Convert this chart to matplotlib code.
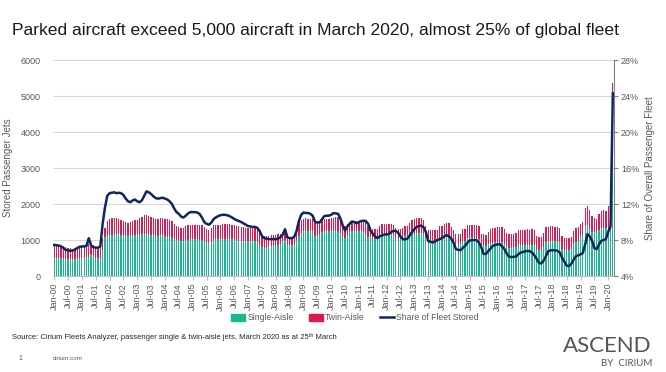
import matplotlib
matplotlib.use("Agg")
import matplotlib.pyplot as plt
import numpy as np
from matplotlib.patches import Patch
from matplotlib.lines import Line2D

plt.rcParams['font.family'] = ['Liberation Sans', 'DejaVu Sans']

# ---- data (monthly, Jan-2000 .. Mar-2020) ----
total_2000 = [850, 850, 840, 840, 830, 800, 770, 780, 760, 760, 780, 800]
single_2000 = [500, 500, 500, 490, 480, 470, 460, 470, 460, 470, 480, 500]
share_2000 = [7.45, 7.42, 7.38, 7.3, 7.1, 6.9, 6.85, 6.8, 6.82, 6.95, 7.1, 7.25]

total_2001 = [820, 840, 850, 880, 930, 860, 790, 790, 800, 1050, 1330, 1540]
single_2001 = [500, 510, 520, 530, 600, 560, 500, 490, 500, 720, 1080, 1120]
share_2001 = [7.27, 7.3, 7.35, 8.2, 7.4, 7.2, 7.15, 7.15, 7.3, 9.8, 11.6, 12.9]

total_2002 = [1580, 1600, 1600, 1600, 1580, 1560, 1520, 1500, 1480, 1500, 1540, 1560]
single_2002 = [1140, 1150, 1160, 1170, 1160, 1140, 1120, 1110, 1100, 1110, 1120, 1130]
share_2002 = [13.2, 13.25, 13.3, 13.2, 13.25, 13.2, 13.0, 12.6, 12.3, 12.2, 12.4, 12.5]

total_2003 = [1560, 1600, 1650, 1700, 1690, 1680, 1640, 1620, 1580, 1590, 1600, 1610]
single_2003 = [1140, 1150, 1160, 1180, 1170, 1160, 1140, 1130, 1120, 1120, 1130, 1140]
share_2003 = [12.3, 12.2, 12.4, 12.9, 13.4, 13.3, 13.1, 12.85, 12.65, 12.6, 12.65, 12.7]

total_2004 = [1590, 1580, 1560, 1520, 1440, 1380, 1360, 1340, 1320, 1380, 1420, 1420]
single_2004 = [1100, 1090, 1080, 1060, 1020, 1000, 990, 980, 960, 990, 1010, 1020]
share_2004 = [12.6, 12.5, 12.3, 12.0, 11.5, 11.1, 10.9, 10.6, 10.5, 10.7, 10.95, 11.1]

total_2005 = [1430, 1430, 1420, 1420, 1410, 1350, 1300, 1290, 1330, 1410, 1420, 1430]
single_2005 = [1020, 1020, 1020, 1010, 1000, 960, 930, 920, 950, 1010, 1020, 1030]
share_2005 = [11.1, 11.1, 11.05, 10.9, 10.5, 10.0, 9.8, 9.7, 9.9, 10.3, 10.5, 10.65]

total_2006 = [1430, 1440, 1440, 1450, 1440, 1430, 1420, 1400, 1380, 1370, 1350, 1340]
single_2006 = [1030, 1030, 1040, 1040, 1030, 1020, 1010, 990, 980, 980, 970, 970]
share_2006 = [10.75, 10.8, 10.8, 10.75, 10.65, 10.5, 10.35, 10.2, 10.1, 10.0, 9.85, 9.7]

total_2007 = [1330, 1330, 1320, 1320, 1300, 1200, 1120, 1110, 1100, 1110, 1140, 1150]
single_2007 = [980, 975, 970, 965, 950, 870, 800, 790, 780, 800, 820, 830]
share_2007 = [9.55, 9.5, 9.45, 9.45, 9.35, 9.0, 8.45, 8.2, 8.15, 8.1, 8.1, 8.1]

total_2008 = [1150, 1160, 1180, 1210, 1230, 1100, 1090, 1090, 1120, 1300, 1490, 1560]
single_2008 = [830, 850, 900, 960, 990, 870, 860, 860, 880, 1000, 1110, 1200]
share_2008 = [8.1, 8.15, 8.3, 8.6, 9.2, 8.3, 8.2, 8.2, 8.35, 9.0, 10.1, 10.8]

total_2009 = [1580, 1600, 1590, 1580, 1570, 1470, 1460, 1480, 1560, 1580, 1590, 1590]
single_2009 = [1250, 1260, 1260, 1250, 1240, 1120, 1110, 1130, 1220, 1240, 1240, 1250]
share_2009 = [11.05, 11.0, 11.0, 10.9, 10.7, 10.0, 9.95, 9.95, 10.3, 10.65, 10.7, 10.7]

total_2010 = [1600, 1620, 1640, 1630, 1560, 1400, 1390, 1450, 1510, 1530, 1540, 1540]
single_2010 = [1250, 1255, 1260, 1255, 1200, 1070, 1060, 1140, 1220, 1240, 1240, 1240]
share_2010 = [10.8, 11.0, 10.95, 10.9, 10.4, 9.6, 9.05, 9.5, 9.8, 10.05, 10.0, 9.85]

total_2011 = [1540, 1550, 1540, 1500, 1380, 1360, 1310, 1300, 1300, 1400, 1440, 1440]
single_2011 = [1240, 1240, 1230, 1180, 1090, 1080, 1030, 1020, 1020, 1120, 1160, 1160]
share_2011 = [10.0, 10.1, 10.15, 10.1, 9.8, 9.05, 8.7, 8.4, 8.2, 8.4, 8.5, 8.6]

total_2012 = [1440, 1440, 1440, 1420, 1320, 1300, 1300, 1320, 1390, 1400, 1480, 1560]
single_2012 = [1160, 1160, 1160, 1130, 1030, 1020, 1020, 1040, 1110, 1115, 1150, 1180]
share_2012 = [8.62, 8.65, 8.9, 9.02, 9.0, 8.8, 8.4, 8.1, 8.08, 8.15, 8.5, 8.85]

total_2013 = [1580, 1600, 1620, 1600, 1560, 1400, 1290, 1280, 1270, 1275, 1290, 1390]
single_2013 = [1180, 1190, 1200, 1190, 1170, 1050, 930, 930, 920, 930, 940, 1050]
share_2013 = [9.2, 9.45, 9.55, 9.6, 9.4, 8.9, 7.9, 7.8, 7.72, 7.85, 8.0, 8.1]

total_2014 = [1400, 1450, 1470, 1460, 1350, 1280, 1180, 1170, 1180, 1300, 1310, 1420]
single_2014 = [1050, 1080, 1090, 1090, 1000, 960, 885, 880, 885, 960, 970, 1050]
share_2014 = [8.2, 8.4, 8.55, 8.4, 8.15, 7.7, 7.0, 6.9, 6.88, 7.1, 7.35, 7.7]

total_2015 = [1420, 1430, 1430, 1420, 1400, 1180, 1160, 1150, 1220, 1300, 1330, 1340]
single_2015 = [1050, 1055, 1055, 1050, 1020, 850, 840, 830, 900, 930, 930, 940]
share_2015 = [7.95, 7.98, 8.0, 7.98, 7.7, 7.2, 6.45, 6.45, 6.75, 7.05, 7.35, 7.45]

total_2016 = [1360, 1370, 1360, 1300, 1200, 1180, 1170, 1175, 1200, 1270, 1280, 1290]
single_2016 = [930, 935, 935, 900, 820, 790, 785, 790, 800, 860, 865, 865]
share_2016 = [7.5, 7.55, 7.3, 7.0, 6.5, 6.15, 6.1, 6.12, 6.15, 6.4, 6.6, 6.65]

total_2017 = [1290, 1300, 1290, 1300, 1280, 1100, 1080, 1090, 1200, 1360, 1370, 1380]
single_2017 = [865, 870, 865, 860, 850, 720, 715, 715, 800, 950, 960, 960]
share_2017 = [6.75, 6.78, 6.75, 6.6, 6.3, 5.9, 5.45, 5.4, 5.7, 6.2, 6.75, 6.85]

total_2018 = [1380, 1370, 1360, 1340, 1120, 1060, 1050, 1050, 1080, 1250, 1330, 1360]
single_2018 = [960, 960, 955, 940, 760, 720, 715, 715, 740, 880, 950, 960]
share_2018 = [6.86, 6.85, 6.8, 6.6, 6.05, 5.6, 5.15, 5.1, 5.35, 5.8, 6.2, 6.3]

total_2019 = [1450, 1500, 1880, 1940, 1820, 1660, 1610, 1580, 1720, 1800, 1820, 1800]
single_2019 = [1100, 1150, 1400, 1420, 1300, 1230, 1210, 1200, 1280, 1330, 1340, 1330]
share_2019 = [6.4, 6.55, 7.5, 8.65, 8.4, 7.9, 7.1, 6.98, 7.5, 7.9, 8.0, 8.1]

total_2020 = [1950, 2000, 5355]
single_2020 = [1340, 1350, 3690]
share_2020 = [8.9, 9.5, 24.3]

total = sum([total_2000, total_2001, total_2002, total_2003, total_2004, total_2005,
             total_2006, total_2007, total_2008, total_2009, total_2010, total_2011,
             total_2012, total_2013, total_2014, total_2015, total_2016, total_2017,
             total_2018, total_2019, total_2020], [])
single = sum([single_2000, single_2001, single_2002, single_2003, single_2004, single_2005,
              single_2006, single_2007, single_2008, single_2009, single_2010, single_2011,
              single_2012, single_2013, single_2014, single_2015, single_2016, single_2017,
              single_2018, single_2019, single_2020], [])
share = sum([share_2000, share_2001, share_2002, share_2003, share_2004, share_2005,
             share_2006, share_2007, share_2008, share_2009, share_2010, share_2011,
             share_2012, share_2013, share_2014, share_2015, share_2016, share_2017,
             share_2018, share_2019, share_2020], [])
twin = [t - s for t, s in zip(total, single)]

tick_labels = []
for yr in range(0, 21):
    tick_labels.append(f"Jan-{yr:02d}")
    if yr < 20:
        tick_labels.append(f"Jul-{yr:02d}")

TEAL = "#19b891"
RED = "#e3174f"
NAVY = "#0d2760"
GRAY = "#595959"

fig = plt.figure(figsize=(6.66, 3.72), dpi=100)
ax = fig.add_axes([53/666, 1-276/372, (614-53)/666, (276-60)/372])
x = np.arange(len(total))
ax.bar(x, single, width=0.55, color=TEAL, linewidth=0)
ax.bar(x, twin, bottom=single, width=0.55, color=RED, linewidth=0)
ax.set_xlim(-0.5, len(total) - 0.5)
ax.set_ylim(0, 6000)
ax.set_yticks(range(0, 6001, 1000))
ax.yaxis.grid(True, color="#d9d9d9", linewidth=0.8)
ax.set_axisbelow(True)
ax.tick_params(axis='y', length=0, labelsize=6.5, labelcolor=GRAY, pad=9)
ax.set_xticks(np.arange(0, len(total), 6))
ax.set_xticklabels(tick_labels, rotation=90, fontsize=6.5, color=GRAY)
ax.tick_params(axis='x', length=3, color="#bfbfbf", pad=2)
for s in ['left', 'top', 'right']:
    ax.spines[s].set_visible(False)
ax.spines['bottom'].set_color("#bfbfbf")
ax.set_ylabel("Stored Passenger Jets", fontsize=7, color=GRAY, labelpad=5)

ax2 = ax.twinx()
ax2.plot(x, share, color=NAVY, linewidth=1.8, solid_joinstyle='round')
ax2.set_ylim(4, 28)
ax2.set_yticks(range(4, 29, 4))
ax2.set_yticklabels([f"{v}%" for v in range(4, 29, 4)])
ax2.tick_params(axis='y', length=3, color="#808080", labelsize=6.5, labelcolor=GRAY, pad=2)
for s in ['left', 'top', 'bottom']:
    ax2.spines[s].set_visible(False)
ax2.spines['right'].set_color("#808080")
ax2.set_ylabel("Share of Overall Passenger Fleet", fontsize=7, color=GRAY, labelpad=4)

fig.text(12/666, 1-30/372, "Parked aircraft exceed 5,000 aircraft in March 2020, almost 25% of global fleet",
         fontsize=12.6, color="#1a1a1a", va='center', ha='left')

handles = [Patch(color=TEAL), Patch(color=RED), Line2D([0], [0], color=NAVY, lw=1.8)]
fig.legend(handles, ["Single-Aisle", "Twin-Aisle", "Share of Fleet Stored"],
           loc='center', bbox_to_anchor=(355/666, 1-318/372), ncol=3, frameon=False,
           fontsize=6.2, labelcolor=GRAY, handlelength=1.6, handleheight=0.7,
           columnspacing=1.8, handletextpad=0.25)

fig.text(12/666, 1-337/372,
         "Source: Cirium Fleets Analyzer, passenger single & twin-aisle jets, March 2020 as at 25\u1d57\u02b0 March",
         fontsize=5.5, color="#262626", va='center', ha='left')
fig.text(18/666, 1-358/372, "1", fontsize=5, color=GRAY, va='center')
fig.text(53/666, 1-358/372, "cirium.com", fontsize=4.5, color=GRAY, va='center')
fig.text(652/666, 1-346/372, "ASCEND", fontsize=16, color="#555555", ha='right', va='center',
         family=['Lato', 'DejaVu Sans'])
fig.text(652/666, 1-363/372, "BY  CIRIUM", fontsize=7, color="#555555", ha='right', va='center',
         family=['Lato', 'DejaVu Sans'])

fig.savefig("out.png", dpi=100)
